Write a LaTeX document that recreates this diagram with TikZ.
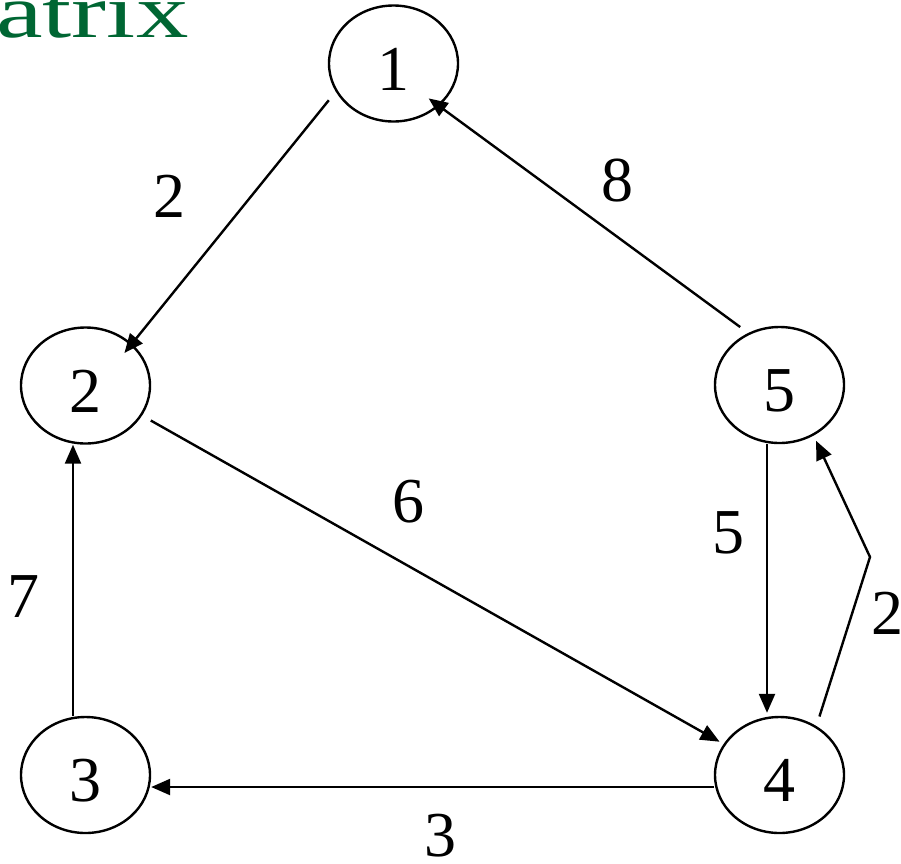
\documentclass[tikz,border=0pt]{standalone}
\usepackage{fontspec}
\setmainfont{Liberation Serif}
\usetikzlibrary{arrows.meta, shapes.geometric}
\definecolor{mTitleGreen}{HTML}{006633}

\begin{document}
\begin{tikzpicture}[
    x=1pt, y=-1pt,
    vertex/.style={draw, ellipse, line width=2.4pt, minimum width=129pt, minimum height=116pt,
        inner sep=0pt, text height=53pt, text depth=0pt, font=\fontsize{64}{72}\selectfont},
    weight/.style={inner sep=0pt, font=\fontsize{64}{72}\selectfont},
    arr/.style={-{Triangle[length=19pt, width=16pt]}, line width=2.4pt}
]
    \useasboundingbox (0,0) rectangle (901,863);

    % title, cut at the left edge
    \node[anchor=base west, inner sep=0pt, text=mTitleGreen, font=\fontsize{76}{84}\selectfont]
        (title) at (-4,37) {\scalebox{1.38}[1]{atrix}};

    % vertices
    \node[vertex] (n1) at (393.5,63.5) {1};
    \node[vertex] (n2) at (85.5,385.5) {2};
    \node[vertex] (n5) at (779.5,385) {5};
    \node[vertex] (n3) at (85.5,775) {3};
    \node[vertex] (n4) at (779.5,775) {4};

    % edges
    \draw[arr, shorten <=11pt, shorten >=-12pt] (n1.206) -- (n2.42);
    \draw[arr, shorten <=10pt, shorten >=-13pt] (n5.121) -- (n1.317.5);
    \draw[arr, shorten <=10pt, shorten >=4.6pt] (n2.332) -- (n4.151.8);
    \draw[arr] ([xshift=-12.5pt]n3.north) -- ([xshift=-12.5pt]n2.south);
    \draw[arr] ([yshift=-12pt]n4.west) -- ([yshift=-12pt]n3.east);
    \draw[arr, shorten >=3pt] ([xshift=-12.5pt]n5.south) -- ([xshift=-12.5pt]n4.north);
    \coordinate (kink) at (870,557);
    \draw[arr, shorten <=10pt, shorten >=5.7pt] (n4.53.9) -- (kink) -- (n5.-56.5);

    % weights
    \node[weight] (w12) at (169.5,196.5) {2};
    \node[weight] (w51) at (617.5,180.5) {8};
    \node[weight] (w24) at (408.5,501.5) {6};
    \node[weight] (w32) at (23.5,596.5) {7};
    \node[weight] (w43) at (440,836) {3};
    \node[weight] (w54) at (728,533) {5};
    \node[weight] (w45) at (887,613) {2};
\end{tikzpicture}
\end{document}
